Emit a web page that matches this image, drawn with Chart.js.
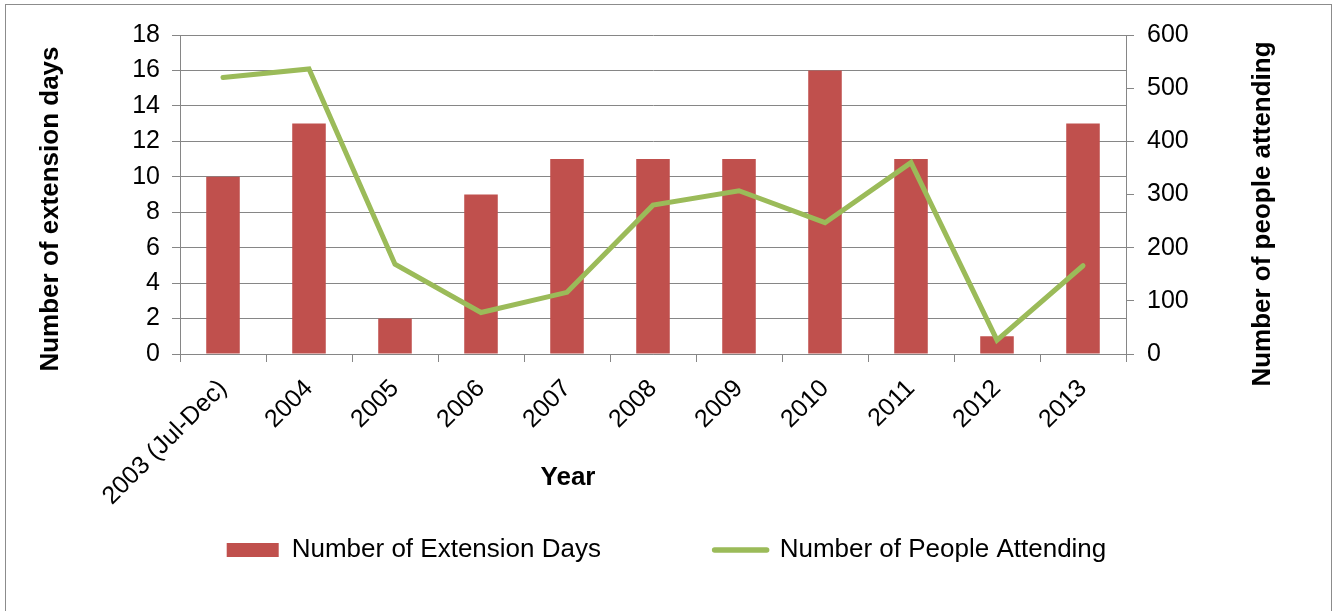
<!DOCTYPE html>
<html>
<head>
<meta charset="utf-8">
<script src="https://cdn.jsdelivr.net/npm/chart.js@4/dist/chart.umd.min.js"></script>
<style>
html, body { margin: 0; padding: 0; background: #fff; }
</style>
</head>
<body>
<canvas id="chartExtension" width="1333" height="611"></canvas>
<script>
const years = ['2003 (Jul-Dec)', '2004', '2005', '2006', '2007', '2008', '2009', '2010', '2011', '2012', '2013'];
const extensionDays = [10, 13, 2, 9, 11, 11, 11, 16, 11, 1, 13];
const peopleAttending = [520, 536, 169, 78, 116, 280, 307, 247, 360, 26, 166];
const daysTicks = [0, 2, 4, 6, 8, 10, 12, 14, 16, 18];
const peopleTicks = [0, 100, 200, 300, 400, 500, 600];

const FONT = "'Liberation Sans', Arial, sans-serif";
const gridGrey = '#868686';

// white page, frame and the axis titles (right one reads bottom-up, like Excel)
const framePlugin = {
    id: 'frame',
    beforeDraw(chart) {
        const ctx = chart.ctx;
        ctx.save();
        ctx.fillStyle = '#fff';
        ctx.fillRect(0, 0, chart.width, chart.height);
        ctx.restore();
    },
    afterDraw(chart) {
        const ctx = chart.ctx;
        ctx.save();
        ctx.strokeStyle = '#8c8c8c';
        ctx.lineWidth = 1;
        ctx.strokeRect(5.5, 4.5, 1326, 700);
        ctx.fillStyle = '#000';
        ctx.font = 'bold 26px ' + FONT;
        ctx.textAlign = 'center';
        ctx.textBaseline = 'middle';
        ctx.fillText('Year', 568, 478);
        const titles = [
            {text: 'Number of extension days', x: 51, y: 209},
            {text: 'Number of people attending', x: 1263, y: 214}
        ];
        titles.forEach(t => {
            ctx.save();
            ctx.translate(t.x, t.y);
            ctx.rotate(-Math.PI / 2);
            ctx.fillText(t.text, 0, 0);
            ctx.restore();
        });
        ctx.restore();
    }
};

const canvasElement = document.getElementById('chartExtension');
const chartExtension = new Chart(canvasElement, {
    type: 'bar',
    data: {
        labels: years,
        datasets: [{
            type: 'bar',
            label: 'Number of Extension Days',
            data: extensionDays,
            backgroundColor: '#C0504D',
            yAxisID: 'yDays',
            order: 2,
            barPercentage: 0.39,
            categoryPercentage: 1
        }, {
            type: 'line',
            label: 'Number of People Attending',
            data: peopleAttending,
            borderColor: '#9BBB59',
            backgroundColor: '#9BBB59',
            borderWidth: 5,
            pointRadius: 0,
            tension: 0,
            borderCapStyle: 'round',
            yAxisID: 'yPeople',
            order: 1
        }]
    },
    options: {
        responsive: false,
        animation: false,
        layout: { padding: { top: 35, left: 0, right: 0, bottom: 38 } },
        plugins: {
            tooltip: { enabled: false },
            legend: {
                position: 'bottom',
                labels: {
                    usePointStyle: true,
                    pointStyleWidth: 52,
                    boxHeight: 14,
                    padding: 27,
                    color: '#000',
                    font: { family: FONT, size: 26 },
                    generateLabels: (chart) => {
                        const items = Chart.defaults.plugins.legend.labels.generateLabels(chart);
                        items.forEach(item => {
                            const ds = chart.data.datasets[item.datasetIndex];
                            if (ds.type === 'line') {
                                item.pointStyle = 'line';
                                item.lineWidth = 5.5;
                                item.lineCap = 'round';
                                item.strokeStyle = ds.borderColor;
                            } else {
                                item.pointStyle = 'rect';
                                item.lineWidth = 0;
                                // trailing spaces widen the gap before the next entry
                                item.text = ds.label + '            ';
                            }
                        });
                        return items.sort((a, b) => a.datasetIndex - b.datasetIndex);
                    }
                }
            }
        },
        scales: {
            x: {
                grid: { offset: true, drawOnChartArea: false, drawTicks: true, tickLength: 8, color: gridGrey },
                border: { color: gridGrey, width: 1 },
                ticks: { color: '#000', font: { family: FONT, size: 25 }, maxRotation: 45, minRotation: 45, autoSkip: false, padding: 12 },
                afterFit: (s) => { s.height = 156; }
            },
            yDays: {
                position: 'left',
                min: daysTicks[0],
                max: daysTicks[daysTicks.length - 1],
                ticks: { stepSize: daysTicks[1] - daysTicks[0], color: '#000', font: { family: FONT, size: 25 }, padding: 12 },
                grid: { color: gridGrey, tickLength: 8 },
                border: { color: gridGrey },
                afterFit: (s) => { s.width = 180; }
            },
            yPeople: {
                position: 'right',
                min: peopleTicks[0],
                max: peopleTicks[peopleTicks.length - 1],
                ticks: { stepSize: peopleTicks[1] - peopleTicks[0], color: '#000', font: { family: FONT, size: 25 }, padding: 13 },
                grid: { drawOnChartArea: false, color: gridGrey, tickLength: 8 },
                border: { color: gridGrey },
                afterFit: (s) => { s.width = 207; }
            }
        }
    },
    plugins: [framePlugin]
});
</script>
</body>
</html>
